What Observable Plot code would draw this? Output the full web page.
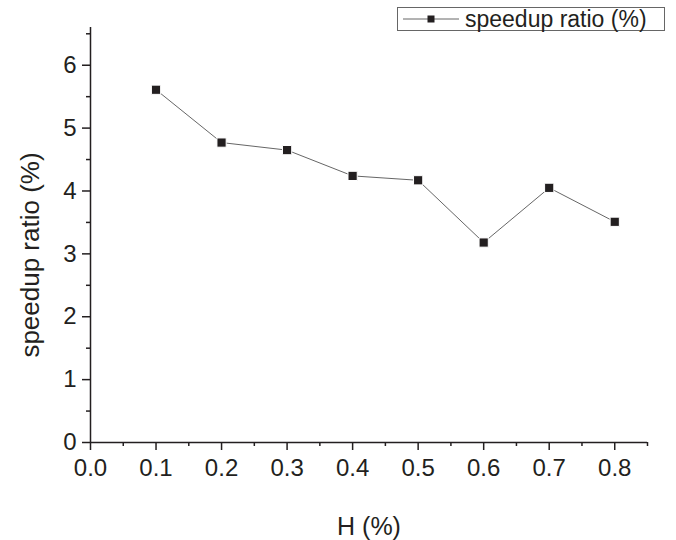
<!DOCTYPE html>
<html>
<head>
<meta charset="utf-8">
<script src="https://cdn.jsdelivr.net/npm/d3@7"></script>
<script src="https://cdn.jsdelivr.net/npm/@observablehq/plot@0.6"></script>
<style>
  html, body { margin: 0; padding: 0; background: #fff; }
  #wrap { position: relative; width: 676px; height: 540px; font-family: "Liberation Sans", Arial, sans-serif; }
  #legend { position: absolute; left: 397px; top: 7px; width: 268px; height: 24px; border: 1px solid #666; box-sizing: border-box; display: flex; align-items: center; background: #fff; }
  #legend span { font-size: 23px; color: #231f20; margin-left: 4px; line-height: 1; white-space: nowrap; }
</style>
</head>
<body>
<div id="wrap">
  <div id="chart"></div>
  <div id="legend">
    <svg width="60" height="20" style="margin-left:3px;flex:none"><line x1="2" y1="10" x2="58" y2="10" stroke="#666" stroke-width="1"/><rect x="26.5" y="6.5" width="7" height="7" fill="#231f20"/></svg>
    <span>speedup ratio (%)</span>
  </div>
</div>
<script>
const hValues = [0.1, 0.2, 0.3, 0.4, 0.5, 0.6, 0.7, 0.8];
const speedup = [5.61, 4.77, 4.65, 4.24, 4.17, 3.18, 4.05, 3.51];
const xMajor = [0, 0.1, 0.2, 0.3, 0.4, 0.5, 0.6, 0.7, 0.8];
const xMinor = [0.05, 0.15, 0.25, 0.35, 0.45, 0.55, 0.65, 0.75, 0.85];
const yMajor = [0, 1, 2, 3, 4, 5, 6];
const yMinor = [0.5, 1.5, 2.5, 3.5, 4.5, 5.5, 6.5];
const xLabel = "H (%)";
const yLabel = "speedup ratio (%)";

const data = hValues.map((h, i) => ({h, v: speedup[i]}));
const ink = "#231f20";

const chart = Plot.plot({
  width: 676,
  height: 540,
  marginLeft: 90,
  marginRight: 29,
  marginTop: 27,
  marginBottom: 98,
  style: {fontFamily: "'Liberation Sans', Arial, sans-serif", color: ink, background: "#fff"},
  x: {domain: [0, 0.85]},
  y: {domain: [0, 6.6]},
  marks: [
    Plot.axisX(xMajor, {tickSize: 8, tickPadding: 8, fontSize: 24, tickFormat: d => d.toFixed(1), label: null, stroke: ink, strokeWidth: 1.5}),
    Plot.axisX(xMinor, {tickSize: 4, text: null, label: null, stroke: ink, strokeWidth: 1.5}),
    Plot.axisY(yMajor, {tickSize: 8, tickPadding: 6, fontSize: 24, tickFormat: d => String(d), label: null, stroke: ink, strokeWidth: 1.5}),
    Plot.axisY(yMinor, {tickSize: 4, text: null, label: null, stroke: ink, strokeWidth: 1.5}),
    Plot.ruleX([0], {stroke: ink, strokeWidth: 1.5}),
    Plot.ruleY([0], {stroke: ink, strokeWidth: 1.5}),
    Plot.line(data, {x: "h", y: "v", stroke: "#666", strokeWidth: 1}),
    Plot.dot(data, {x: "h", y: "v", symbol: "square", r: 5.2, fill: ink, stroke: "white", strokeWidth: 1}),
    Plot.text([xLabel], {frameAnchor: "bottom", dy: 84, lineAnchor: "middle", textAnchor: "middle", fontSize: 25, fill: ink}),
    Plot.text([yLabel], {frameAnchor: "left", dx: -60, dy: 20, rotate: -90, textAnchor: "middle", lineAnchor: "middle", fontSize: 26, fill: ink})
  ]
});
document.getElementById("chart").appendChild(chart);
</script>
</body>
</html>
